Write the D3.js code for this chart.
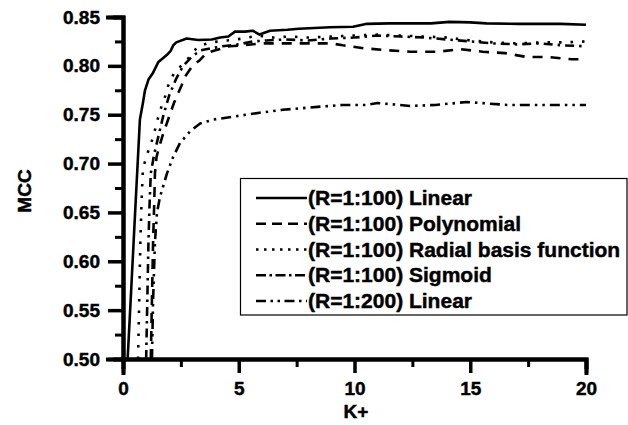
<!DOCTYPE html>
<html>
<head>
<meta charset="utf-8">
<script src="https://d3js.org/d3.v7.min.js"></script>
<style>
  html, body { margin: 0; padding: 0; background: #fff; }
  svg { display: block; }
  text { font-family: "Liberation Sans", Arial, sans-serif; font-weight: bold; fill: #000; stroke: #000; stroke-width: 0.45px; }
</style>
</head>
<body>
<svg id="chart" width="628" height="425"></svg>
<script>
// ---- data ----
const seriesNames = [
  "(R=1:100) Linear",
  "(R=1:100) Polynomial",
  "(R=1:100) Radial basis function",
  "(R=1:100) Sigmoid",
  "(R=1:200) Linear"
];

const linear100K = [0.2,0.35,0.5,0.6,0.73,0.86,0.95,1.1,1.3,1.53,1.89,2.05,2.17,2.3,2.75,3.25,3.83,4.2,4.55,4.84,5.27,5.6,5.9,6.35,7.1,7.6,8.5,8.94,9.94,10.54,11.5,13.3,14.1,15.0,15.7,17.1,18.9,20];
const linear100V = [0.50,0.569,0.639,0.685,0.745,0.762,0.775,0.786,0.793,0.804,0.811,0.815,0.821,0.824,0.828,0.8265,0.827,0.829,0.830,0.835,0.835,0.836,0.832,0.836,0.837,0.838,0.839,0.8395,0.840,0.843,0.8435,0.8435,0.845,0.8445,0.8435,0.843,0.843,0.842];

const polyK = [1.2,1.25,1.3,1.35,1.38,1.45,1.6,1.74,1.89,2.2,2.53,2.68,3.0,3.33,3.6,4.0,4.6,5.2,6.0,7.0,8.0,9.0,9.5,10.4,11.4,12.4,13.6,14.6,15.55,16.5,17.45,18.4,19.4,20];
const polyV = [0.50,0.56,0.62,0.66,0.69,0.707,0.72,0.731,0.741,0.762,0.78,0.789,0.80,0.806,0.813,0.816,0.82,0.821,0.823,0.823,0.823,0.823,0.821,0.818,0.816,0.8145,0.8145,0.817,0.8145,0.813,0.809,0.809,0.8067,0.807];

const rbfK = [0.65,0.7,0.75,0.8,0.86,1.08,1.3,1.58,1.8,1.94,2.23,2.66,3.24,3.8,4.5,5.2,5.8,6.5,7.2,8.0,9.0,10.0,11.0,12.0,13.0,14.0,15.0,16.0,17.0,18.0,19.0,20.0];
const rbfV = [0.50,0.56,0.62,0.66,0.695,0.712,0.727,0.753,0.767,0.779,0.794,0.803,0.82,0.824,0.826,0.828,0.831,0.829,0.83,0.829,0.83,0.831,0.832,0.831,0.83,0.829,0.826,0.824,0.823,0.824,0.824,0.825];

const sigK = [1.0,1.05,1.1,1.15,1.2,1.35,1.55,1.75,2.0,2.3,2.6,3.0,3.37,3.8,4.3,5.0,5.6,6.2,7.0,8.0,9.0,10.0,11.0,12.0,13.0,14.0,15.0,16.0,17.0,18.0,19.0,20.0];
const sigV = [0.50,0.56,0.62,0.66,0.69,0.71,0.73,0.75,0.77,0.787,0.80,0.81,0.816,0.818,0.82,0.822,0.825,0.826,0.827,0.826,0.828,0.829,0.831,0.83,0.829,0.827,0.825,0.823,0.822,0.823,0.821,0.82];

const linear200K = [1.25,1.3,1.38,1.47,1.6,1.9,2.17,2.46,2.9,3.33,3.9,4.75,5.9,6.9,8.4,9.5,10.5,11.0,12.4,13.5,14.85,16.6,18.6,20];
const linear200V = [0.50,0.56,0.62,0.65,0.666,0.69,0.707,0.721,0.733,0.741,0.745,0.748,0.752,0.755,0.758,0.760,0.760,0.762,0.759,0.760,0.763,0.760,0.760,0.760];

const xMajorTicks = [0, 5, 10, 15, 20];
const xMinorTicks = [2.5, 7.5, 12.5, 17.5];
const yMajorTicks = [0.50, 0.55, 0.60, 0.65, 0.70, 0.75, 0.80, 0.85];
const yMinorTicks = [0.525, 0.575, 0.625, 0.675, 0.725, 0.775, 0.825];
const xTitle = "K+";
const yTitle = "MCC";

// ---- styles ----
const plotDash   = [null, "10,8", "2.5,9", "9,5,2.5,5", "10,5,2.5,5,2.5,5"];
const legendDash = [null, "10,6", "2.5,5.5", "10,3.5,2.5,3.5", "10,4.5,2.5,4.5,2.5,4.5"];

const svg = d3.select("#chart");
const x = d3.scaleLinear().domain([0, 20]).range([123, 586]);
const y = d3.scaleLinear().domain([0.5, 0.85]).range([359, 17]);

const series = [
  [linear100K, linear100V],
  [polyK, polyV],
  [rbfK, rbfV],
  [sigK, sigV],
  [linear200K, linear200V]
].map(([ks, vs]) => ks.map((k, i) => ({k, v: vs[i]})));

const line = d3.line().x(d => x(d.k)).y(d => y(d.v));

// lines
svg.append("g").selectAll("path")
  .data(series)
  .join("path")
  .attr("d", line)
  .attr("fill", "none")
  .attr("stroke", "#000")
  .attr("stroke-width", 2.6)
  .attr("stroke-linejoin", "round")
  .attr("stroke-dasharray", (d, i) => plotDash[i]);

// axes
function styleAxis(g, tw) {
  g.selectAll(".domain").attr("stroke", "#000").attr("stroke-width", 4);
  g.selectAll(".tick line").attr("stroke", "#000").attr("stroke-width", tw);
  g.selectAll("text").attr("font-size", 19).attr("font-family", "Liberation Sans, Arial, sans-serif").attr("font-weight", "bold");
}

const yMinor = svg.append("g").attr("transform", "translate(123,0)")
  .call(d3.axisLeft(y).tickValues(yMinorTicks).tickSize(8).tickFormat(""));
styleAxis(yMinor, 3);
const yAxis = svg.append("g").attr("transform", "translate(123,0)")
  .call(d3.axisLeft(y).tickValues(yMajorTicks).tickSize(15).tickPadding(8).tickFormat(d3.format(".2f")));
styleAxis(yAxis, 3.5);

const xMinor = svg.append("g").attr("transform", "translate(0,359)")
  .call(d3.axisBottom(x).tickValues(xMinorTicks).tickSize(8).tickFormat(""));
styleAxis(xMinor, 3);
const xAxis = svg.append("g").attr("transform", "translate(0,359)")
  .call(d3.axisBottom(x).tickValues(xMajorTicks).tickSize(14).tickPadding(9).tickFormat(d3.format("d")));
styleAxis(xAxis, 3.5);
svg.selectAll(".domain").attr("stroke-linecap", "square");

// titles
svg.append("text").attr("x", 356).attr("y", 418).attr("text-anchor", "middle")
  .attr("font-size", 19).text(xTitle);
svg.append("text").attr("transform", "translate(31,191) rotate(-90)")
  .attr("text-anchor", "middle").attr("font-size", 19).text(yTitle);

// legend
const lg = svg.append("g");
lg.append("rect").attr("x", 240.5).attr("y", 178.5).attr("width", 386.5).attr("height", 136.5)
  .attr("fill", "#fff").attr("stroke", "#000").attr("stroke-width", 1.2);
const rowY = d3.scaleLinear().domain([0, 4]).range([205, 308]);
seriesNames.forEach((name, i) => {
  const by = rowY(i);
  lg.append("line").attr("x1", 256).attr("x2", 307).attr("y1", by - 7).attr("y2", by - 7)
    .attr("stroke", "#000").attr("stroke-width", 2.5)
    .attr("stroke-dasharray", legendDash[i]);
  lg.append("text").attr("x", 308).attr("y", by).attr("font-size", 21).text(name);
});
</script>
</body>
</html>
